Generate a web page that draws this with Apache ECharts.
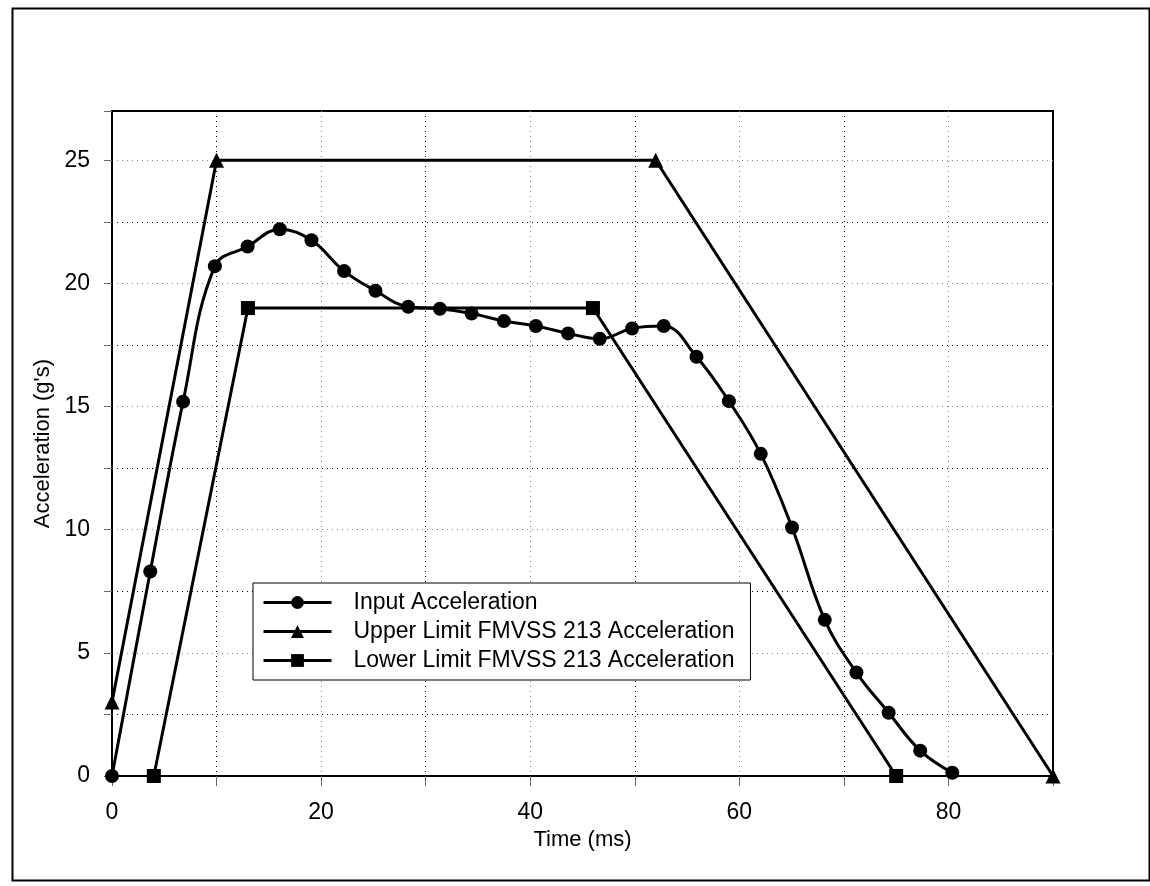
<!DOCTYPE html>
<html>
<head>
<meta charset="utf-8">
<script src="https://cdn.jsdelivr.net/npm/echarts@6/dist/echarts.min.js"></script>
<style>
html,body{margin:0;padding:0;background:#fff;}
#chart{width:1150px;height:886px;}
</style>
</head>
<body>
<div id="chart"></div>
<script>
// ---- data ----
const inputTime = [0, 3.66, 6.8, 9.84, 12.97, 16.05, 19.08, 22.2, 25.2, 28.33, 31.36, 34.39, 37.48, 40.54, 43.62, 46.65, 49.74, 52.77, 55.9, 59.0, 62.05, 65.04, 68.17, 71.2, 74.28, 77.3, 80.37];
const inputAccel = [0, 8.3, 15.2, 20.7, 21.5, 22.2, 21.75, 20.5, 19.7, 19.05, 18.97, 18.78, 18.47, 18.27, 17.97, 17.75, 18.17, 18.27, 17.02, 15.22, 13.08, 10.09, 6.34, 4.2, 2.57, 1.03, 0.13];
const upperTime = [0, 10, 52, 90];
const upperAccel = [3, 25, 25, 0];
const lowerTime = [4, 13, 46, 75];
const lowerAccel = [0, 19, 19, 0];
const seriesNames = ['Input Acceleration', 'Upper Limit FMVSS 213 Acceleration', 'Lower Limit FMVSS 213 Acceleration'];
const xTitle = 'Time (ms)';
const yTitle = "Acceleration (g's)";

const zip = (a, b) => a.map((v, i) => [v, b[i]]);
const FONT = "'Liberation Sans', Arial, sans-serif";

const chart = echarts.init(document.getElementById('chart'), null, {renderer: 'canvas'});
chart.setOption({
  backgroundColor: '#fff',
  animation: false,
  textStyle: {fontFamily: FONT, color: '#000'},
  graphic: [{
    type: 'rect', left: 10, top: 6, z: -1,
    shape: {x: 0, y: 0, width: 1137, height: 872},
    style: {fill: 'none', stroke: '#000', lineWidth: 2}
  }],
  grid: {left: 112, top: 111, right: 97, bottom: 110, show: true, borderColor: '#000', borderWidth: 2, backgroundColor: 'transparent'},
  xAxis: {
    type: 'value', min: 0, max: 90, interval: 10,
    name: xTitle, nameLocation: 'middle', nameGap: 40,
    nameTextStyle: {fontSize: 22, fontFamily: FONT, color: '#000'},
    axisLine: {show: true, onZero: false, lineStyle: {color: '#000', width: 2}},
    axisTick: {show: true, length: 10, lineStyle: {color: '#666', width: 1}},
    axisLabel: {
      fontSize: 23, fontFamily: FONT, color: '#000', margin: 25,
      formatter: v => (v % 20 === 0 && v <= 80) ? String(v) : ''
    },
    splitLine: {show: true, lineStyle: {color: ['#888', '#000'], type: [1, 4], width: 1}}
  },
  yAxis: {
    type: 'value', min: 0, max: 27, interval: 2.5,
    name: yTitle, nameLocation: 'middle', nameGap: 55, nameRotate: 90,
    nameTextStyle: {fontSize: 22, fontFamily: FONT, color: '#000'},
    axisLine: {show: true, onZero: false, lineStyle: {color: '#000', width: 2}},
    axisTick: {show: true, length: 8, lineStyle: {color: '#666', width: 1}},
    axisLabel: {
      fontSize: 23, fontFamily: FONT, color: '#000', margin: 22,
      formatter: v => (v % 5 === 0) ? String(v) : ''
    },
    splitLine: {show: true, lineStyle: {color: ['#888', '#000'], type: [1, 4], width: 1}}
  },
  legend: {
    orient: 'vertical', left: 253, top: 583,
    data: seriesNames,
    backgroundColor: '#fff', borderColor: '#000', borderWidth: 1,
    padding: [8, 16, 8, 9],
    itemWidth: 68, itemHeight: 16, itemGap: 6,
    lineStyle: {width: 3, color: '#000'},
    textStyle: {fontSize: 23, fontFamily: FONT, color: '#000', padding: [0, 0, 0, 17]}
  },
  series: [
    {
      name: seriesNames[0], type: 'line', data: zip(inputTime, inputAccel),
      smooth: 0.4, symbol: 'circle', symbolSize: 14,
      lineStyle: {color: '#000', width: 3}, itemStyle: {color: '#000'}, z: 5
    },
    {
      name: seriesNames[1], type: 'line', data: zip(upperTime, upperAccel),
      symbol: 'triangle', symbolSize: 15,
      lineStyle: {color: '#000', width: 3}, itemStyle: {color: '#000'}, z: 4
    },
    {
      name: seriesNames[2], type: 'line', data: zip(lowerTime, lowerAccel),
      symbol: 'rect', symbolSize: 14,
      lineStyle: {color: '#000', width: 3}, itemStyle: {color: '#000'}, z: 4
    }
  ]
});
</script>
</body>
</html>
